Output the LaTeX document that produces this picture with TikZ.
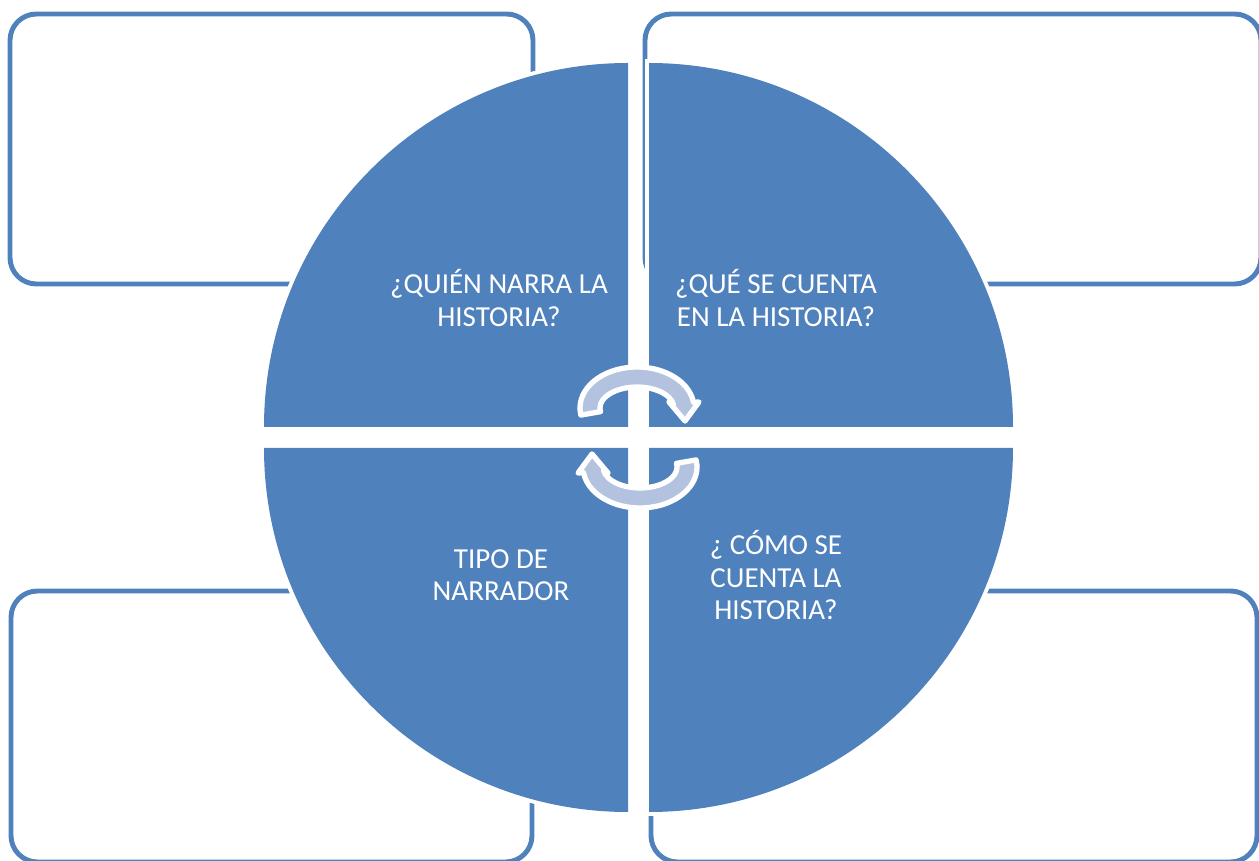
\documentclass[tikz,border=0pt]{standalone}
\usepackage{fontspec}
\setmainfont{Carlito}
\definecolor{quadblue}{HTML}{4F81BD}
\definecolor{arrowfill}{HTML}{B3C3DF}
\tikzset{
  notebox/.style={draw=quadblue, line width=2.8pt, fill=white, rounded corners=15pt},
  quarter/.style={fill=quadblue, preaction={draw=white, line width=4.5pt}},
  qtext/.style={text=white, align=center, font=\fontsize{16.5pt}{18.4pt}\selectfont},
  turnarrow/.pic={
    \filldraw[fill=arrowfill, draw=white, line width=3pt, line join=round]
      (190:57 and 41) arc[start angle=190, end angle=8, x radius=57, y radius=41]
      -- (62,6) -- (48,-13) -- (32,6)
      -- (8:37 and 21) arc[start angle=8, end angle=190, x radius=37, y radius=21]
      -- cycle;
  }
}

\begin{document}
\begin{tikzpicture}[x=0.02cm, y=0.02cm]
    \useasboundingbox (0,0) rectangle (1259,860);
    \draw[notebox] (10,576) rectangle (533,846);
    \draw[notebox] (645,576) rectangle (1261,846);
    \draw[notebox] (11,-2) rectangle (532,269);
    \draw[notebox] (651,-2) rectangle (1257,269);
    \foreach \cx/\cy/\a in {628/433/90, 649/433/0, 628/412/180, 649/412/270}
        \path[quarter] (\cx,\cy) -- ++(\a:364) arc[start angle=\a, end angle=\a+90, radius=364] -- cycle;
    \node[qtext] (quien) at (499,562) {¿QUIÉN NARRA LA\\HISTORIA?};
    \node[qtext] (que) at (776,562) {¿QUÉ SE CUENTA\\EN LA HISTORIA?};
    \node[qtext] (tipo) at (501,285) {TIPO DE\\NARRADOR};
    \node[qtext] (como) at (776,285) {¿ CÓMO SE\\CUENTA LA\\HISTORIA?};
    \pic at (637,452) {turnarrow};
    \pic[rotate=180] at (640,393) {turnarrow};
\end{tikzpicture}
\end{document}
